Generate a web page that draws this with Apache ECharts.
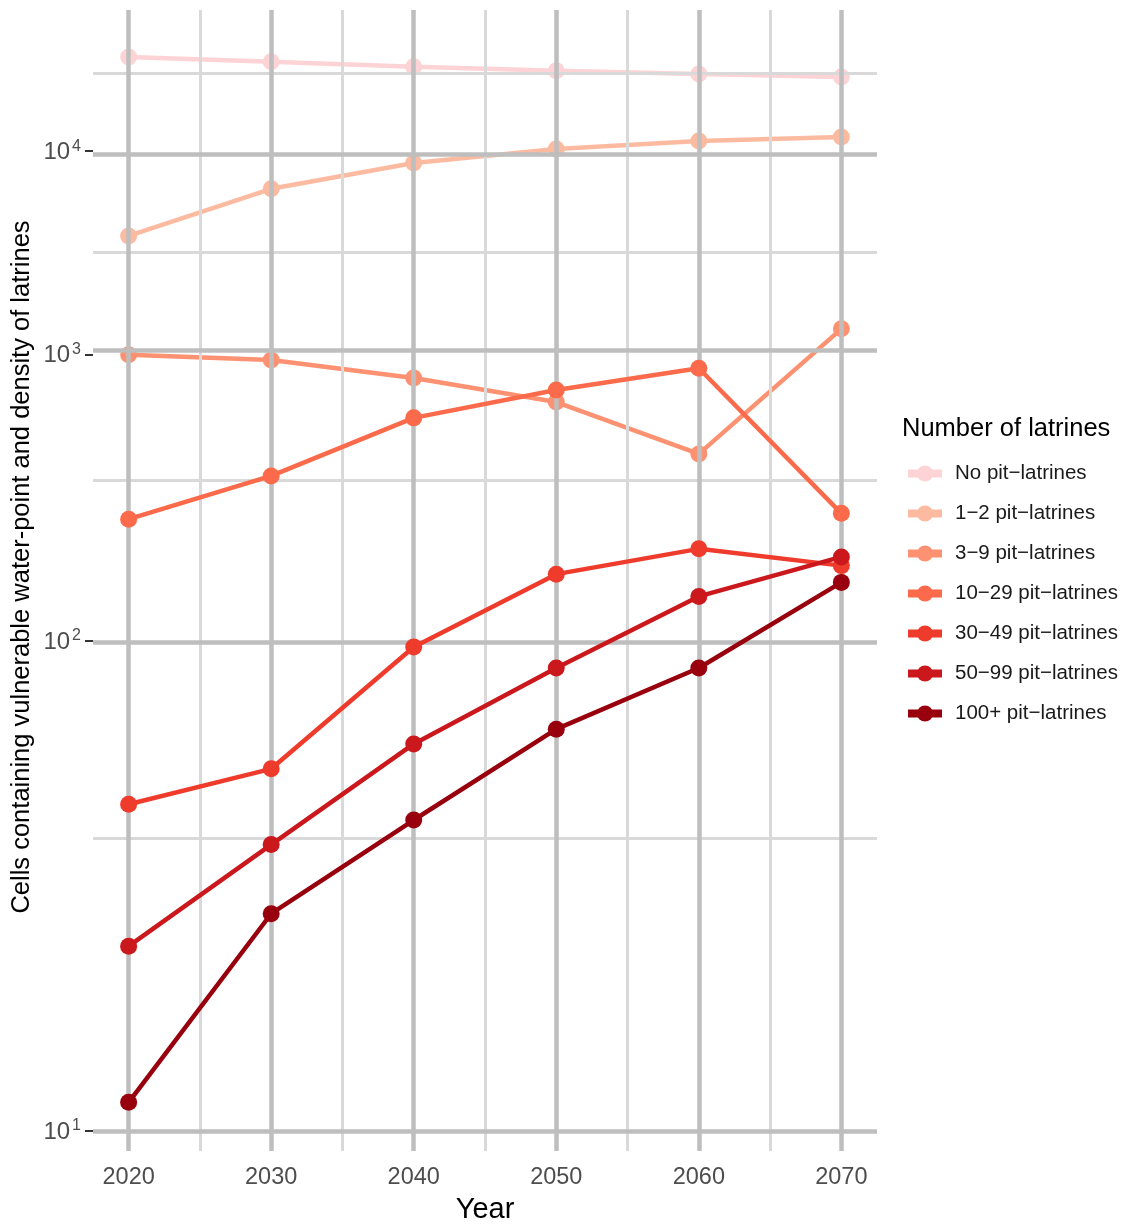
<!DOCTYPE html>
<html>
<head>
<meta charset="utf-8">
<script src="https://cdn.jsdelivr.net/npm/echarts@6/dist/echarts.min.js"></script>
<style>
html,body{margin:0;padding:0;background:#fff;}
#chart{width:1124px;height:1227px;}
</style>
</head>
<body>
<div id="chart"></div>
<script>
// ---- data ----
const years = [2020, 2030, 2040, 2050, 2060, 2070];
const seriesNames = ["No pit\u2212latrines", "1\u22122 pit\u2212latrines", "3\u22129 pit\u2212latrines", "10\u221229 pit\u2212latrines", "30\u221249 pit\u2212latrines", "50\u221299 pit\u2212latrines", "100+ pit\u2212latrines"];
const noPit    = [37150, 34580, 32160, 30300, 28970, 27720];
const pit1to2  = [3530, 6200, 8590, 10300, 11430, 12050];
const pit3to9  = [997, 948, 798, 638, 404, 1291];
const pit10to29 = [238, 336, 553, 713, 875, 249];
const pit30to49 = [38.7, 46.7, 96.2, 158, 190, 168];
const pit50to99 = [19.9, 31.6, 53.6, 84.2, 135, 179];
const pit100plus = [11.0, 22.9, 35.7, 58.3, 84.2, 149];
const seriesValues = [noPit, pit1to2, pit3to9, pit10to29, pit30to49, pit50to99, pit100plus];
const colors = ["#FDD3D5", "#FCBBA1", "#FC9272", "#FB6A4A", "#EF3B2C", "#CB181D", "#99000D"];
const yMajorBreaks = [10, 100, 1000, 10000];
const yMinorBreaks = [31.62, 316.2, 3162, 31623];
const xMajorBreaks = [2020, 2030, 2040, 2050, 2060, 2070];
const xMinorBreaks = [2025, 2035, 2045, 2055, 2065];

// y transform: log10(log10(v))
const tr = v => Math.log10(Math.log10(v));

const font = "Liberation Sans, Arial, Helvetica, sans-serif";

const gridSeries = {
  type: 'line', name: '_grid', data: [], z: 1, silent: true,
  markLine: {
    silent: true, symbol: 'none', animation: false,
    label: {show: false},
    emphasis: {disabled: true},
    data: [
      ...yMinorBreaks.map(v => ({yAxis: tr(v), lineStyle: {color: '#D9D9D9', width: 3, type: 'solid'}})),
      ...xMinorBreaks.map(v => ({xAxis: v, lineStyle: {color: '#D9D9D9', width: 3, type: 'solid'}})),
      ...yMajorBreaks.map(v => ({yAxis: tr(v), lineStyle: {color: '#BEBEBE', width: 4.5, type: 'solid'}})),
      ...xMajorBreaks.map(v => ({xAxis: v, lineStyle: {color: '#BEBEBE', width: 4.5, type: 'solid'}}))
    ]
  }
};

const dataSeries = seriesNames.map((name, i) => ({
  type: 'line', name: name, z: 2 + i,
  data: years.map((y, j) => [y, tr(seriesValues[i][j])]),
  symbol: 'circle', symbolSize: 17, showSymbol: true,
  lineStyle: {color: colors[i], width: 4.5},
  itemStyle: {color: colors[i]},
  emphasis: {disabled: true},
  animation: false
}));

const chart = echarts.init(document.getElementById('chart'), null, {renderer: 'canvas'});
chart.setOption({
  backgroundColor: '#ffffff',
  animation: false,
  grid: {left: 93, top: 10, width: 784, height: 1141, containLabel: false, outerBoundsMode: 'none'},
  xAxis: {
    type: 'value', min: 2017.5, max: 2072.5,
    axisLine: {show: false},
    splitLine: {show: false},
    axisTick: {show: true, length: 8, lineStyle: {color: '#333333', width: 2}, customValues: xMajorBreaks},
    axisLabel: {customValues: xMajorBreaks, color: '#4D4D4D', fontSize: 23.5, fontFamily: font, margin: 15,
      formatter: v => String(v)},
    name: 'Year', nameLocation: 'middle', nameGap: 44,
    nameTextStyle: {color: '#000', fontSize: 29, fontFamily: font}
  },
  yAxis: {
    type: 'value', min: -0.0123, max: 0.6888,
    axisLine: {show: false},
    splitLine: {show: false},
    axisTick: {show: true, length: 8, lineStyle: {color: '#333333', width: 2}, customValues: yMajorBreaks.map(tr)},
    axisLabel: {
      customValues: yMajorBreaks.map(tr), margin: 12, fontSize: 23,
      formatter: v => '{b|10}{s|' + Math.round(Math.pow(10, v)) + '}',
      rich: {
        b: {color: '#4D4D4D', fontSize: 24, fontFamily: font, lineHeight: 26, verticalAlign: 'bottom', padding: [0, 2, 0, 0]},
        s: {color: '#4D4D4D', fontSize: 16, fontFamily: font, lineHeight: 26, verticalAlign: 'top'}
      }
    }
  },
  legend: {
    data: seriesNames,
    orient: 'vertical', left: 899, top: 458,
    itemWidth: 34, itemHeight: 20, itemGap: 19,
    lineStyle: {width: 8},
    textStyle: {color: '#1a1a1a', fontSize: 20.5, fontFamily: font, lineHeight: 20, padding: [0, 0, 0, 8]},
    selectedMode: false
  },
  graphic: [{
    type: 'text', left: 902, top: 416,
    style: {text: 'Number of latrines', fill: '#000', fontSize: 25.5, fontFamily: font}
  }, {
    type: 'text', x: 22, y: 567, rotation: Math.PI / 2,
    style: {text: 'Cells containing vulnerable water-point and density of latrines', fill: '#000',
      fontSize: 25.5, fontFamily: font, align: 'center', verticalAlign: 'middle'}
  }],
  series: [gridSeries, ...dataSeries]
});
</script>
</body>
</html>
